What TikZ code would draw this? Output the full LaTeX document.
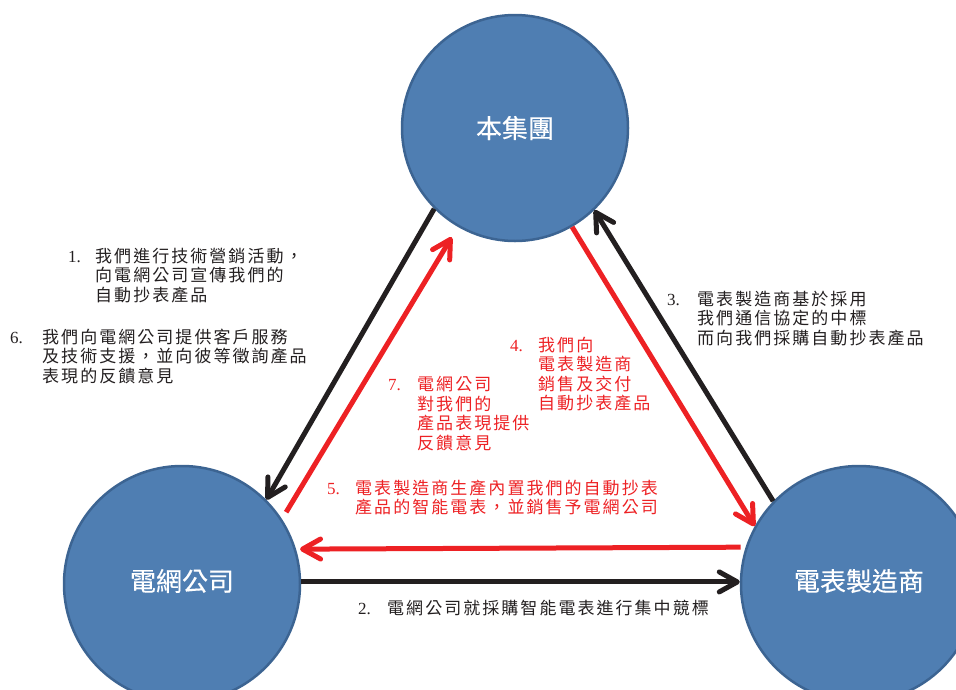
\documentclass[tikz,border=0pt]{standalone}
\usepackage{fontspec}
\usetikzlibrary{arrows.meta}
\newfontfamily\cjk[LetterSpace=12]{Noto Sans CJK TC}
\newfontfamily\cjkcirc[FakeBold=0.35]{Noto Sans CJK TC}
\newfontfamily\numf{Liberation Serif}
\definecolor{circfill}{RGB}{79,126,178}
\definecolor{circedge}{RGB}{60,100,146}
\definecolor{arrred}{RGB}{237,33,36}
\definecolor{ink}{RGB}{35,31,32}
\newcommand\numline[3]{\hbox{\hbox to #1{\numf #2\hfil}#3}}
\newcommand\subline[2]{\hbox{\hskip#1\relax #2}}
\newcommand\textblock[1]{\vtop{\baselineskip=19.5pt\lineskiplimit=-40pt\lineskip=0pt #1}}
\newcommand\lift[1]{\raisebox{3pt}[\height][\depth]{#1}}
\tikzset{
  hub/.style={circle, fill=circfill, draw=circedge, line width=2.5pt, inner sep=0pt,
    text=white, font=\cjkcirc\fontsize{26}{30}\selectfont},
  lbl/.style={anchor=base west, inner sep=0pt, font=\cjk\fontsize{17}{19.5}\selectfont},
  conn/.style={line width=5pt, -{Straight Barb[length=18pt,width=20pt,round]}}
}
\begin{document}
\begin{tikzpicture}[x=1pt,y=-1pt]
\useasboundingbox (0,0) rectangle (956,689);
\clip (0,0) rectangle (956,689);
\node[hub, minimum size=226pt] (top) at (515,128) {本集團};
\node[hub, minimum size=236pt] (left) at (182,584) {\lift{電網公司}};
\node[hub, minimum size=236pt] (right) at (859,584) {\lift{電表製造商}};

\draw[conn, draw=ink] (top.225) -- (left.45);
\draw[conn, draw=arrred, shorten <=8pt, shorten >=12pt] (left.33) -- (top.240);
\draw[conn, draw=arrred] (top.300) -- (right.151);
\draw[conn, draw=ink] (right.136) -- (top.314);
\draw[conn, draw=arrred, shorten <=5pt, shorten >=4pt] (right.162.5) -- (left.17.5);
\draw[conn, draw=ink] (left.1) -- (right.179);

\node[lbl, text=ink] (t1) at (68,262) {\textblock{\numline{27pt}{1.}{我們進行技術營銷活動，}\subline{27pt}{向電網公司宣傳我們的}\subline{27pt}{自動抄表產品}}};
\node[lbl, text=ink] (t6) at (10,343) {\textblock{\numline{32pt}{6.}{我們向電網公司提供客戶服務}\subline{32pt}{及技術支援，並向彼等徵詢產品}\subline{32pt}{表現的反饋意見}}};
\node[lbl, text=ink] (t3) at (667,305) {\textblock{\numline{30pt}{3.}{電表製造商基於採用}\subline{30pt}{我們通信協定的中標}\subline{30pt}{而向我們採購自動抄表產品}}};
\node[lbl, text=arrred] (t4) at (510,351) {\textblock{\numline{28pt}{4.}{我們向}\subline{28pt}{電表製造商}\subline{28pt}{銷售及交付}\subline{28pt}{自動抄表產品}}};
\node[lbl, text=arrred] (t7) at (388,390.5) {\textblock{\numline{29pt}{7.}{電網公司}\subline{29pt}{對我們的}\subline{29pt}{產品表現提供}\subline{29pt}{反饋意見}}};
\node[lbl, text=arrred] (t5) at (327,494) {\textblock{\numline{28pt}{5.}{電表製造商生產內置我們的自動抄表}\subline{28pt}{產品的智能電表，並銷售予電網公司}}};
\node[lbl, text=ink] (t2) at (358,614) {\textblock{\numline{29pt}{2.}{電網公司就採購智能電表進行集中競標}}};
\end{tikzpicture}
\end{document}
